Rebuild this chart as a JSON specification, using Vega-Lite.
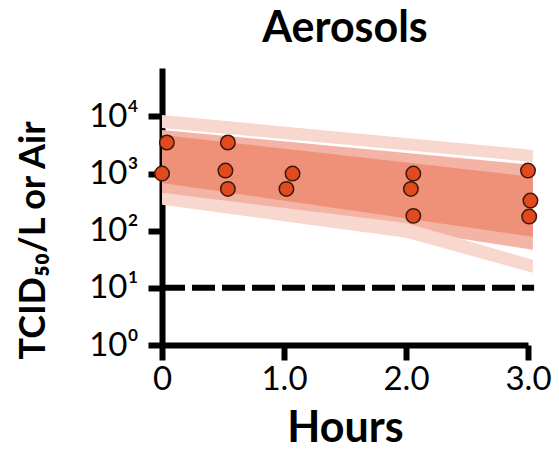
{
  "$schema": "https://vega.github.io/schema/vega-lite/v6.json",
  "width": 366,
  "height": 277,
  "autosize": {"type": "none"},
  "padding": {"left": 162, "top": 68, "right": 31, "bottom": 107},
  "background": "white",
  "title": {"text": "Aerosols", "font": "Lato", "fontSize": 43, "fontWeight": "bold", "color": "black", "anchor": "middle", "offset": 17},
  "config": {"view": {"stroke": null}, "axis": {"grid": false}},
  "datasets": {
    "medium": [
      {"t": 0, "lo": 460, "hi": 5808},
      {"t": 3.04, "lo": 46.4, "hi": 1420}
    ],
    "dark": [
      {"t": 0, "lo": 688, "hi": 4750},
      {"t": 3.04, "lo": 78.2, "hi": 875}
    ],
    "lightTop": [
      {"t": 0, "lo": 6295, "hi": 10620},
      {"t": 3.04, "lo": 1601, "hi": 2597}
    ],
    "lightBottom": [
      {"t": 0, "lo": 284, "hi": 460},
      {"t": 2.0, "lo": 75.2, "hi": 137},
      {"t": 3.04, "lo": 18.4, "hi": 31.0}
    ],
    "limit": [{"t0": 0, "t1": 3.05, "v": 10}],
    "obs": [
      {"t": 0.04, "titer": 3500},
      {"t": 0.0, "titer": 1000},
      {"t": 0.54, "titer": 3500},
      {"t": 0.52, "titer": 1130},
      {"t": 0.54, "titer": 540},
      {"t": 1.07, "titer": 1000},
      {"t": 1.02, "titer": 540},
      {"t": 2.06, "titer": 1000},
      {"t": 2.04, "titer": 540},
      {"t": 2.06, "titer": 182},
      {"t": 3.0, "titer": 1130},
      {"t": 3.02, "titer": 337},
      {"t": 3.01, "titer": 177}
    ]
  },
  "encoding": {
    "x": {
      "field": "t", "type": "quantitative",
      "scale": {"domain": [0, 3], "nice": false, "zero": false},
      "axis": {
        "title": "Hours", "titleFont": "Lato", "titleFontSize": 43, "titleFontWeight": "bold", "titleColor": "black", "titlePadding": 11,
        "values": [0, 1, 2, 3],
        "labelExpr": "datum.value == 0 ? '0' : format(datum.value, '.1f')",
        "labelFont": "Lato", "labelFontSize": 33, "labelColor": "black", "labelPadding": 3, "labelFlush": false,
        "domainColor": "black", "domainWidth": 6, "tickColor": "black", "tickWidth": 6, "tickSize": 15
      }
    },
    "y": {
      "field": "lo", "type": "quantitative",
      "scale": {"type": "log", "domain": [1, 70500], "nice": false},
      "axis": {
        "title": "TCID₅₀/L or Air", "titleFont": "Lato", "titleFontSize": 36, "titleFontWeight": "bold", "titleColor": "black",
        "titleX": -129, "titleY": 172, "titleAngle": -90, "titleAlign": "center", "titleBaseline": "middle",
        "values": [1, 10, 100, 1000, 10000],
        "labelExpr": "datum.value == 1 ? '10⁰' : datum.value == 10 ? '10¹' : datum.value == 100 ? '10²' : datum.value == 1000 ? '10³' : '10⁴'",
        "labelFont": "Lato", "labelFontSize": 33, "labelColor": "black", "labelPadding": 10,
        "domainColor": "black", "domainWidth": 6, "tickColor": "black", "tickWidth": 6, "tickSize": 14
      }
    }
  },
  "layer": [
    {"data": {"name": "medium"}, "mark": {"type": "area", "color": "#F4B4A5", "opacity": 1}, "encoding": {"y2": {"field": "hi"}}},
    {"data": {"name": "dark"}, "mark": {"type": "area", "color": "#EF9079", "opacity": 1}, "encoding": {"y2": {"field": "hi"}}},
    {"data": {"name": "lightTop"}, "mark": {"type": "area", "color": "#F8D7CE", "opacity": 1}, "encoding": {"y2": {"field": "hi"}}},
    {"data": {"name": "lightBottom"}, "mark": {"type": "area", "color": "#F8D7CE", "opacity": 1}, "encoding": {"y2": {"field": "hi"}}},
    {"data": {"name": "limit"}, "mark": {"type": "rule", "color": "black", "strokeWidth": 6, "strokeDash": [23, 7], "strokeCap": "butt"},
     "encoding": {"x": {"field": "t0", "type": "quantitative"}, "x2": {"field": "t1"}, "y": {"field": "v", "type": "quantitative"}}},
    {"data": {"name": "obs"}, "mark": {"type": "point", "shape": "circle", "filled": true, "fill": "#E2491F", "stroke": "#3A1A0E", "strokeWidth": 1.5, "size": 210, "opacity": 1},
     "encoding": {"y": {"field": "titer", "type": "quantitative"}}}
  ]
}
